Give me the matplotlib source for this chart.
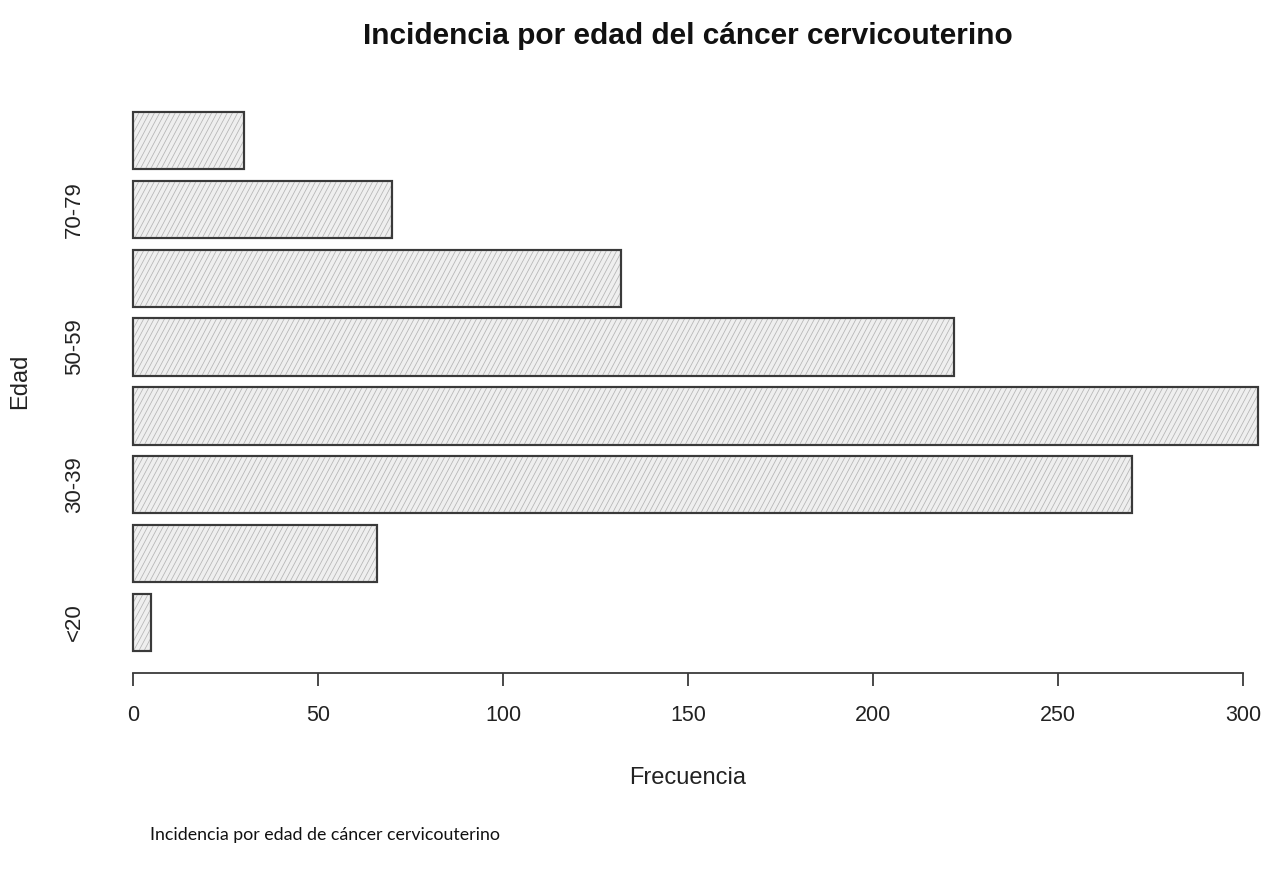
import numpy as np
import matplotlib
matplotlib.use("Agg")
import matplotlib.pyplot as plt
from matplotlib import font_manager
from matplotlib.collections import LineCollection
from matplotlib.transforms import IdentityTransform

# Age groups and case counts
edades = ["<20", "20-29", "30-39", "40-49", "50-59", "60-69", "70-79", "80+"]
frecuencia = [5, 66, 270, 304, 222, 132, 70, 30]
xticks = [0, 50, 100, 150, 200, 250, 300]

titulo = "Incidencia por edad del cáncer cervicouterino"
pie = "Incidencia por edad de cáncer cervicouterino"

SANS = "Liberation Sans"
font_manager.findfont(SANS, fallback_to_default=False)

W, H = 1266, 876
DPI = 100
fig = plt.figure(figsize=(W / DPI, H / DPI), dpi=DPI)
fig.patch.set_facecolor("white")

# plot region in pixels (R-style barplot layout)
left_px, right_px = 88, 1266
bottom_px, top_px = 672.6, 90.4
ax = fig.add_axes([left_px / W, 1 - bottom_px / H,
                   (right_px - left_px) / W, (bottom_px - top_px) / H])

# bar positions as in R: width 1, space 0.2
pos = 0.7 + 1.2 * np.arange(len(edades))
bars = ax.barh(pos, frecuencia, height=1.0, color="#efefef",
               edgecolor="#3a3a3a", linewidth=1.5, zorder=3)

x0 = -0.04 * 304
ax.set_xlim(x0, x0 + (right_px - left_px) / ((1243 - 133) / 300))
ax.set_ylim(0.2 - 0.376, 9.6 + 0.376)

for s in ["top", "right", "left"]:
    ax.spines[s].set_visible(False)
ax.spines["bottom"].set_bounds(0, 300)
ax.spines["bottom"].set_color("#3a3a3a")
ax.spines["bottom"].set_linewidth(1.3)

ax.set_xticks(xticks)
ax.set_xticklabels([str(v) for v in xticks], fontsize=15.5,
                   family=SANS, color="#222222")
ax.tick_params(axis="x", length=9, width=1.3, color="#3a3a3a", pad=14)

ax.set_yticks(pos[::2])
ax.set_yticklabels(edades[::2], rotation=90, va="center", fontsize=16,
                   family=SANS, color="#222222")
ax.tick_params(axis="y", length=0, pad=2)

# diagonal shading lines inside each bar
fig.canvas.draw()
bb = ax.get_window_extent()
spacing = 5.2
angle = np.deg2rad(62)
dx = bb.height / np.tan(angle)
xs = np.arange(bb.x0 - dx - 10, bb.x1 + 10, spacing)
segs = [[(x, bb.y0), (x + dx, bb.y1)] for x in xs]
for b in bars:
    lc = LineCollection(segs, colors="#b4b4b4", linewidths=0.55,
                        transform=IdentityTransform(), zorder=3.5)
    ax.add_collection(lc)
    lc.set_clip_path(b)
# edges above the shading
for b in bars:
    r = plt.Rectangle(b.get_xy(), b.get_width(), b.get_height(), fill=False,
                      edgecolor="#3a3a3a", linewidth=1.5, zorder=4)
    ax.add_patch(r)

fig.text(688 / W, 1 - 36 / H, titulo, ha="center", va="center",
         fontsize=21.5, fontweight="bold", family=SANS, color="#111111")
fig.text(688 / W, 1 - 778 / H, "Frecuencia", ha="center", va="center",
         fontsize=17, family=SANS, color="#222222")
fig.text(20 / W, 1 - 381 / H, "Edad", ha="center", va="center",
         rotation=90, fontsize=17, family=SANS, color="#222222")
fig.text(150 / W, 1 - 835 / H, pie, ha="left", va="center",
         fontsize=12.8, family="Lato", color="#111111")

fig.savefig("out.png", dpi=DPI, facecolor="white")
